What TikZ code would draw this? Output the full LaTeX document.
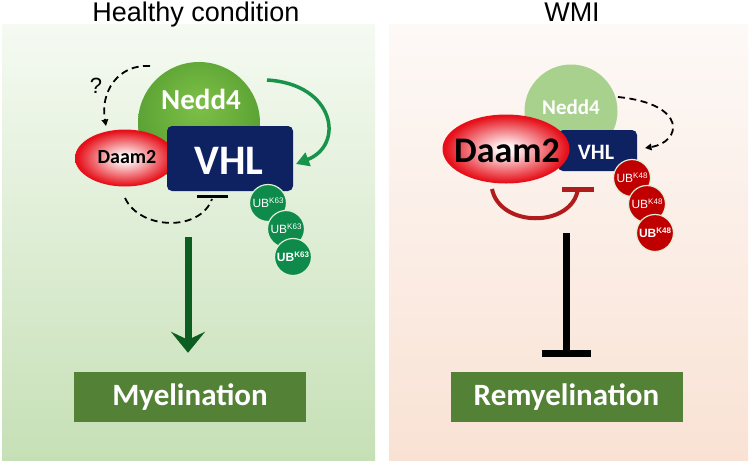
\documentclass[tikz,border=0pt]{standalone}
\usepackage{fontspec}
\setmainfont{Liberation Sans}
\newfontfamily\carl{Carlito}
\usetikzlibrary{arrows.meta,shapes.geometric}
\definecolor{navy}{HTML}{0E2161}
\definecolor{boxgreen}{HTML}{538135}
\definecolor{ubgreen}{HTML}{0E8A4A}
\definecolor{ubred}{HTML}{C00000}
\definecolor{arrowgreen}{HTML}{17934A}
\definecolor{dkgreen}{HTML}{0B5E1F}
\definecolor{inhred}{HTML}{B01C1C}
\definecolor{lightned}{HTML}{A9D18E}
\definecolor{ubrim}{HTML}{DDEFD4}
\definecolor{daamred}{HTML}{E6101A}
\definecolor{nedA}{HTML}{7DBF48}
\definecolor{nedB}{HTML}{6AAF3C}
\definecolor{nedC}{HTML}{4A962C}
\definecolor{lgtop}{HTML}{F5FAF2}
\definecolor{lgbot}{HTML}{C6E0B6}
\definecolor{rgtop}{HTML}{FDF9F7}
\definecolor{rgbot}{HTML}{F9E2D4}
\pgfdeclareradialshading{daamshade}{\pgfpoint{0bp}{0bp}}{color(0bp)=(white); color(4bp)=(white!92!daamred); color(24bp)=(daamred); color(50bp)=(daamred)}
\pgfdeclareradialshading{nedshade}{\pgfpoint{0bp}{8bp}}{color(0bp)=(nedA); color(15bp)=(nedB); color(36bp)=(nedC); color(50bp)=(nedC)}
\begin{document}
\begin{tikzpicture}[x=1pt,y=-1pt,
  title/.style={font=\fontsize{27}{27}\selectfont, text=black, inner sep=0, anchor=base},
  vhlbox/.style={rectangle, rounded corners=5, fill=navy, inner sep=0},
  vhltext/.style={font=\carl\bfseries, text=white, inner sep=0},
  daamtext/.style={font=\carl\bfseries, text=black, inner sep=0},
  nedtext/.style={font=\carl\bfseries, text=white, inner sep=0},
  ub/.style={circle, minimum size=37, inner sep=0, draw=ubrim, line width=1.2, text=white, font=\fontsize{12}{12}\selectfont},
  outbox/.style={rectangle, fill=boxgreen, minimum width=232, minimum height=50, inner sep=0, text=white, font=\carl\bfseries\fontsize{31}{31}\selectfont},
  dashline/.style={dash pattern=on 7pt off 4.5pt, line width=1.8, black},
  dtip/.style={-{Triangle[length=6.5pt, width=6.5pt]}},
]
\useasboundingbox (0,0) rectangle (750,464);
\fill[white] (0,0) rectangle (750,464);
% panels
\shade[top color=lgtop, bottom color=lgbot] (2,24) rectangle (375,460);
\shade[top color=rgtop, bottom color=rgbot] (389,24) rectangle (748,460);
% titles
\node[title] (t1) at (196,21) {Healthy condition};
\node[title] (t2) at (572,21) {WMI};

% ===== left =====
\node[circle, minimum size=122, inner sep=0, shading=nedshade] (nedL) at (199,123) {};
\node[ellipse, minimum width=100, minimum height=57, inner sep=0, shading=daamshade] (daamL) at (125,158) {};
\node[vhlbox, minimum width=126, minimum height=65] (vhlL) at (230,158.5) {};
\node[nedtext, font=\carl\bfseries\fontsize{29}{29}\selectfont] (nedLt) at (201,99) {Nedd4};
\node[daamtext, font=\carl\bfseries\fontsize{20}{20}\selectfont] (daamLt) at (127,157) {Daam2};
\node[vhltext, font=\carl\bfseries\fontsize{42}{42}\selectfont] (vhlLt) at (229,161) {VHL};
\node[font=\fontsize{22}{22}\selectfont, inner sep=0] (q) at (96,86) {?};

\coordinate (qs) at (150,66);
\coordinate (qe) at (106,126);
\draw[dashline, dtip] (qs) .. controls (118,64) and (100,92) .. (qe);

\coordinate (ls) at (125,198);
\coordinate (le) at (212,199);
\draw[dashline] (ls) .. controls (140,230) and (200,232) .. (le);
\coordinate (barL) at (212.5,196);
\draw[line width=3, black] ([xshift=-15.5pt]barL) -- ([xshift=15.5pt]barL);

\coordinate (gs) at (267,80);
\coordinate (ge) at (296,164);
\draw[arrowgreen, line width=3.5, -{Triangle[length=13pt, width=14pt]}] (gs) .. controls (335,84) and (345,145) .. (ge);

\node[ub, fill=ubgreen] (ubL1) at (268,203) {UB\raisebox{3.5pt}{\fontsize{8}{8}\selectfont K63}};
\node[ub, fill=ubgreen] (ubL2) at (286,229) {UB\raisebox{3.5pt}{\fontsize{8}{8}\selectfont K63}};
\node[ub, fill=ubgreen, font=\bfseries\fontsize{12}{12}\selectfont] (ubL3) at (293,257) {UB\raisebox{3.5pt}{\fontsize{8}{8}\selectfont K63}};

\node[outbox] (myel) at (190,397) {Myelination};
\coordinate (as) at (188,237);
\draw[dkgreen, line width=7, -{Stealth[length=21pt, width=34pt, inset=8pt]}] (as) -- ([yshift=19pt]myel.north -| as);

% ===== right =====
\node[circle, minimum size=93, inner sep=0, fill=lightned] (nedR) at (571,111) {};
\node[vhlbox, minimum width=79, minimum height=41] (vhlR) at (597.5,150.5) {};
\node[ellipse, minimum width=127, minimum height=69, inner sep=0, shading=daamshade] (daamR) at (506,149) {};
\node[nedtext, font=\carl\bfseries\fontsize{21}{21}\selectfont] (nedRt) at (571,107) {Nedd4};
\node[vhltext, font=\carl\bfseries\fontsize{22}{22}\selectfont] (vhlRt) at (596,152) {VHL};
\node[daamtext, font=\carl\bfseries\fontsize{36}{36}\selectfont] (daamRt) at (507,151) {Daam2};

\coordinate (rs) at (618,97);
\coordinate (re) at (645,148);
\draw[dashline, dtip] (rs) .. controls (688,104) and (682,142) .. (re);

\coordinate (rrs) at (492,189);
\coordinate (rre) at (578,189);
\draw[inhred, line width=4] (rrs) .. controls (500,228) and (572,228) .. (rre);
\draw[inhred, line width=5] ([xshift=-16pt]rre) -- ([xshift=16pt]rre);

\node[ub, fill=ubred] (ubR1) at (632,178) {UB\raisebox{3.5pt}{\fontsize{8}{8}\selectfont K48}};
\node[ub, fill=ubred] (ubR2) at (647,204) {UB\raisebox{3.5pt}{\fontsize{8}{8}\selectfont K48}};
\node[ub, fill=ubred, font=\bfseries\fontsize{12}{12}\selectfont] (ubR3) at (655,233) {UB\raisebox{3.5pt}{\fontsize{8}{8}\selectfont K48}};

\node[outbox] (remyel) at (566.5,397) {Remyelination};
\coordinate (bs) at (566,233);
\coordinate (bt) at (566,353.5);
\draw[black, line width=7] (bs) -- (bt);
\draw[black, line width=7] ([xshift=-24.5pt]bt) -- ([xshift=24.5pt]bt);
\end{tikzpicture}
\end{document}
